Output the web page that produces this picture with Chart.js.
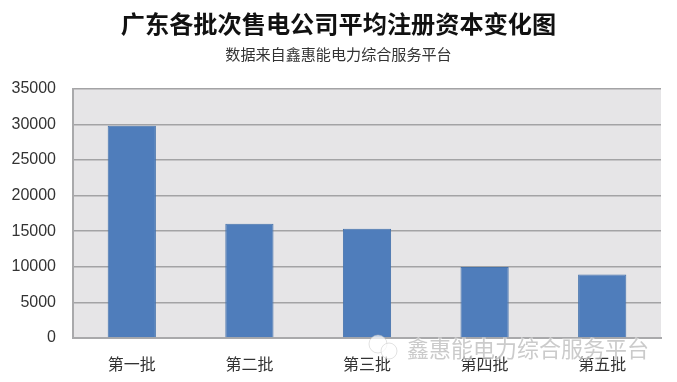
<!DOCTYPE html>
<html>
<head>
<meta charset="utf-8">
<script src="https://cdn.jsdelivr.net/npm/chart.js@4/dist/chart.umd.min.js"></script>
<style>
html, body { margin: 0; padding: 0; background: #fff; }
canvas { display: block; }
</style>
</head>
<body>
<canvas id="chart" width="677" height="382"></canvas>
<script>
const categories = ['第一批', '第二批', '第三批', '第四批', '第五批'];
const capital = [29790, 16050, 15350, 9950, 8920];
const titleText = '广东各批次售电公司平均注册资本变化图';
const subtitleText = '数据来自鑫惠能电力综合服务平台';
const watermarkText = '鑫惠能电力综合服务平台';

const fontFamily = '"Liberation Sans", "Noto Sans CJK SC", sans-serif';

// grey panel behind the bars
const plotBackground = {
    id: 'plotBackground',
    beforeDraw(chart) {
        const { ctx, chartArea: a } = chart;
        ctx.save();
        ctx.fillStyle = '#e6e5e7';
        ctx.fillRect(a.left, a.top, a.right - a.left, a.bottom - a.top);
        ctx.restore();
    }
};

// wechat style watermark, sits over everything
const watermark = {
    id: 'watermark',
    afterDraw(chart) {
        const ctx = chart.ctx;
        ctx.save();
        ctx.fillStyle = 'rgba(255,255,255,0.7)';
        ctx.strokeStyle = 'rgba(190,190,190,0.45)';
        ctx.lineWidth = 1;
        ctx.beginPath();
        ctx.arc(378, 344, 9, 0, Math.PI * 2);
        ctx.fill();
        ctx.stroke();
        ctx.beginPath();
        ctx.arc(389, 351, 8, 0, Math.PI * 2);
        ctx.fill();
        ctx.stroke();
        ctx.font = '22px "Noto Sans CJK SC", sans-serif';
        ctx.textAlign = 'left';
        ctx.textBaseline = 'middle';
        ctx.lineWidth = 2;
        ctx.strokeStyle = 'rgba(255,255,255,0.5)';
        ctx.strokeText(watermarkText, 407, 349);
        ctx.fillStyle = 'rgba(175,175,175,0.65)';
        ctx.fillText(watermarkText, 407, 349);
        ctx.restore();
    }
};

new Chart(document.querySelector('#chart').getContext('2d'), {
    type: 'bar',
    data: {
        labels: categories,
        datasets: [{
            label: '平均注册资本',
            data: capital,
            backgroundColor: '#4f7dbb',
            borderColor: '#4673ac',
            borderWidth: 1,
            barPercentage: 1,
            categoryPercentage: 0.41
        }]
    },
    options: {
        responsive: false,
        animation: false,
        plugins: {
            legend: { display: false },
            tooltip: { enabled: false },
            title: {
                display: true,
                text: titleText,
                color: '#111',
                font: { family: fontFamily, size: 24.2, weight: 'bold', lineHeight: 1.2 },
                padding: { top: 12, bottom: 6 }
            },
            subtitle: {
                display: true,
                text: subtitleText,
                color: '#333',
                font: { family: fontFamily, size: 15.1, lineHeight: 1.2 },
                padding: { top: 0, bottom: 23.5 }
            }
        },
        scales: {
            x: {
                grid: { display: false },
                border: { display: true, color: '#a9a9ab', width: 2 },
                ticks: {
                    color: '#333',
                    padding: 10,
                    font: { family: fontFamily, size: 16 }
                },
                afterFit(scale) { scale.height = 44; }
            },
            y: {
                min: 0,
                max: 35000,
                grid: { color: '#a3a3a5', lineWidth: 1.5, drawTicks: false },
                border: { display: true, color: '#a9a9ab', width: 2 },
                ticks: {
                    stepSize: 5000,
                    color: '#333',
                    padding: 17,
                    font: { family: fontFamily, size: 16 },
                    callback: value => String(value)
                },
                afterFit(scale) { scale.width = 73; }
            },
            // empty axis, only keeps the white strip right of the plot
            spacer: {
                position: 'right',
                grid: { display: false },
                border: { display: false },
                ticks: { display: false },
                afterFit(scale) { scale.width = 16; }
            }
        }
    },
    plugins: [plotBackground, watermark]
});
</script>
</body>
</html>
